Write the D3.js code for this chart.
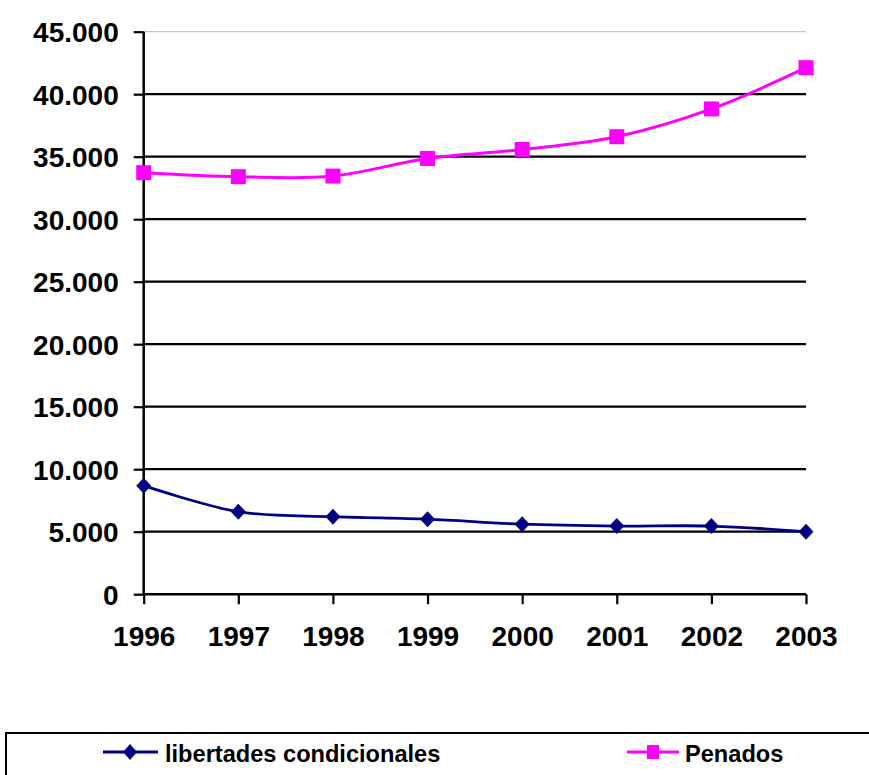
<!DOCTYPE html>
<html>
<head>
<meta charset="utf-8">
<script src="https://cdn.jsdelivr.net/npm/d3@7"></script>
<style>
  html, body { margin: 0; padding: 0; background: #fff; }
  svg { display: block; }
  text { font-family: "Liberation Sans", Arial, sans-serif; font-weight: bold; fill: #000; }
</style>
</head>
<body>
<svg id="chart" width="869" height="775"></svg>
<script>
const years = ["1996", "1997", "1998", "1999", "2000", "2001", "2002", "2003"];
const libertades = [8680, 6600, 6200, 6000, 5600, 5450, 5450, 5000];
const penados = [33720, 33400, 33450, 34860, 35580, 36600, 38820, 42120];
const yTicks = [0, 5000, 10000, 15000, 20000, 25000, 30000, 35000, 40000, 45000];
const seriesNames = ["libertades condicionales", "Penados"];

const svg = d3.select("#chart");
const x = d3.scalePoint().domain(years).range([143.7, 806]);
const y = d3.scaleLinear().domain([0, 45000]).range([594.2, 31.7]);
const fmt = v => d3.format(",")(v).replace(/,/g, ".");

// gridlines
svg.append("g").selectAll("line").data(yTicks.filter(d => d > 0)).join("line")
  .attr("x1", 143.7).attr("x2", 806)
  .attr("y1", d => y(d)).attr("y2", d => y(d))
  .attr("stroke", d => d === 45000 ? "#c8c8c8" : "#000")
  .attr("stroke-width", d => d === 45000 ? 1.2 : 2.2);

// y axis
const yAxis = d3.axisLeft(y).tickValues(yTicks).tickFormat(fmt).tickSize(10).tickPadding(15);
const gy = svg.append("g").attr("transform", "translate(143.7,0)").call(yAxis);
gy.select(".domain").attr("stroke", "#000").attr("stroke-width", 2.5).attr("d", `M0,${y(45000)}V${y(0)}`);
gy.selectAll(".tick line").attr("stroke", "#000").attr("stroke-width", 2.2);
gy.selectAll(".tick text").style("font-size", "28px").style("font-family", "Liberation Sans, Arial, sans-serif").style("font-weight", "bold").attr("fill", "#000").attr("dy", "0.35em");

// x axis
const xAxis = d3.axisBottom(x).tickSize(10).tickPadding(22);
const gx = svg.append("g").attr("transform", `translate(0,${y(0)})`).call(xAxis);
gx.select(".domain").attr("stroke", "#000").attr("stroke-width", 2.5).attr("d", `M143.7,0H806`);
gx.selectAll(".tick line").attr("stroke", "#000").attr("stroke-width", 2.2);
gx.selectAll(".tick text").style("font-size", "28px").style("font-family", "Liberation Sans, Arial, sans-serif").style("font-weight", "bold").attr("fill", "#000");

const line = d3.line().x((d, i) => x(years[i])).y(d => y(d)).curve(d3.curveCardinal.tension(0));

// series lines
svg.append("path").datum(penados).attr("d", line).attr("fill", "none").attr("stroke", "#FF00FF").attr("stroke-width", 3);
svg.append("path").datum(libertades).attr("d", line).attr("fill", "none").attr("stroke", "#000080").attr("stroke-width", 2.8);

// markers
const sq = 15;
svg.append("g").selectAll("rect").data(penados).join("rect")
  .attr("x", (d, i) => x(years[i]) - sq / 2).attr("y", d => y(d) - sq / 2)
  .attr("width", sq).attr("height", sq).attr("fill", "#FF00FF");
const dia = (cx, cy, w, h) => `M${cx},${cy - h}L${cx + w},${cy}L${cx},${cy + h}L${cx - w},${cy}Z`;
svg.append("g").selectAll("path").data(libertades).join("path")
  .attr("d", (d, i) => dia(x(years[i]), y(d), 7.5, 8)).attr("fill", "#000080");

// legend
svg.append("rect").attr("x", 6).attr("y", 733).attr("width", 880).attr("height", 60)
  .attr("fill", "#fff").attr("stroke", "#000").attr("stroke-width", 2);
const lg = svg.append("g");
// libertades
lg.append("line").attr("x1", 103).attr("x2", 158).attr("y1", 752).attr("y2", 752).attr("stroke", "#000080").attr("stroke-width", 3);
lg.append("path").attr("d", dia(130, 752, 7, 8)).attr("fill", "#000080");
lg.append("text").attr("x", 165).attr("y", 762).style("font-size", "23.6px").text(seriesNames[0]);
// penados
lg.append("line").attr("x1", 627).attr("x2", 679).attr("y1", 752).attr("y2", 752).attr("stroke", "#FF00FF").attr("stroke-width", 3);
lg.append("rect").attr("x", 647).attr("y", 745).attr("width", 12).attr("height", 14).attr("fill", "#FF00FF");
lg.append("text").attr("x", 685).attr("y", 762).style("font-size", "23.6px").text(seriesNames[1]);
</script>
</body>
</html>
